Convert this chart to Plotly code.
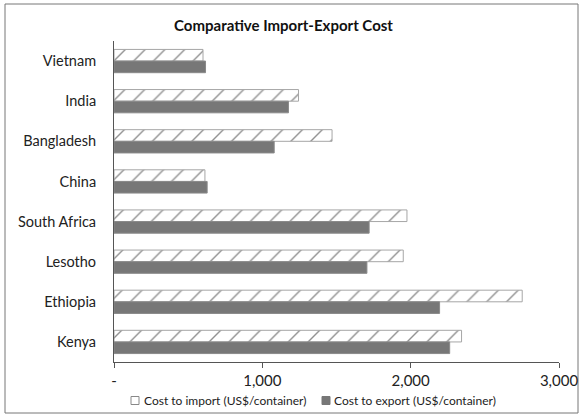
import plotly.graph_objects as go

countries = ["Vietnam", "India", "Bangladesh", "China", "South Africa", "Lesotho", "Ethiopia", "Kenya"]
import_cost = [600, 1244, 1470, 613, 1975, 1950, 2752, 2343]
export_cost = [617, 1176, 1080, 628, 1720, 1705, 2195, 2263]
series_names = ["Cost to import (US$/container)", "Cost to export (US$/container)"]
tick_vals = [0, 1000, 2000, 3000]
tick_text = ["-", "1,000", "2,000", "3,000"]

FONT = "Lato"
EXPORT_COLOR = "#777777"

fig = go.Figure()
fig.add_trace(go.Bar(
    y=countries, x=import_cost, orientation="h",
    name=series_names[0],
    marker=dict(color="white", line=dict(color="#a6a6a6", width=1),
                pattern=dict(shape="/", fgcolor="#222222", bgcolor="white", size=14, solidity=0.1)),
))
fig.add_trace(go.Bar(
    y=countries, x=export_cost, orientation="h",
    name=series_names[1],
    marker=dict(color=EXPORT_COLOR, line=dict(color="#8a8a8a", width=1)),
))

W, H = 583, 419
L, R, T, B = 114, 24, 41, 57
pw, ph = W - L - R, H - T - B

def px(x):
    return (x - L) / pw

def py(y):
    return (H - B - y) / ph

# manual legend (Excel style: small square right before text)
leg_y = 400.5
sq = 8
shapes = [dict(type="rect", xref="paper", yref="paper",
               x0=px(5), x1=px(578), y0=py(413), y1=py(4),
               line=dict(color="#777777", width=1), fillcolor="rgba(0,0,0,0)", layer="below")]
annotations = []
legend_items = [(131, 142, "white", "#888888", series_names[0]),
                (322, 332, EXPORT_COLOR, EXPORT_COLOR, series_names[1])]
for sx, tx, fill, edge, name in legend_items:
    shapes.append(dict(type="rect", xref="paper", yref="paper",
                       x0=px(sx), x1=px(sx + sq), y0=py(leg_y + sq / 2), y1=py(leg_y - sq / 2),
                       line=dict(color=edge, width=1), fillcolor=fill))
    annotations.append(dict(x=px(tx), y=py(leg_y), xref="paper", yref="paper",
                            text=name, showarrow=False, xanchor="left", yanchor="middle",
                            font=dict(family=FONT, size=12, color="#222222")))

fig.update_layout(
    width=W, height=H,
    margin=dict(l=L, r=R, t=T, b=B, autoexpand=False),
    paper_bgcolor="white", plot_bgcolor="white",
    barmode="group", bargap=0.42, bargroupgap=0.0,
    font=dict(family=FONT, size=15, color="#222222"),
    title=dict(text="<b>Comparative Import-Export Cost</b>", x=283.5 / W, xanchor="center",
               y=1 - 26 / H, yanchor="middle", font=dict(family=FONT, size=15, color="#111111")),
    showlegend=False,
    xaxis=dict(range=[0, 3000], tickvals=tick_vals, ticktext=tick_text, automargin=False,
               showgrid=False, zeroline=False, showline=True, linecolor="#555555", linewidth=1,
               ticks="outside", ticklen=5, tickcolor="#555555",
               tickfont=dict(family=FONT, size=15, color="#222222")),
    yaxis=dict(autorange="reversed", showgrid=False, zeroline=False, showline=True, automargin=False,
               linecolor="#555555", linewidth=1, ticks="", ticklabelstandoff=14,
               tickfont=dict(family=FONT, size=14.5, color="#222222")),
    shapes=shapes,
    annotations=annotations,
)

fig.write_html("out.html", config={"displayModeBar": False},
               post_script="document.body.style.margin='0';document.body.style.overflow='hidden';")
